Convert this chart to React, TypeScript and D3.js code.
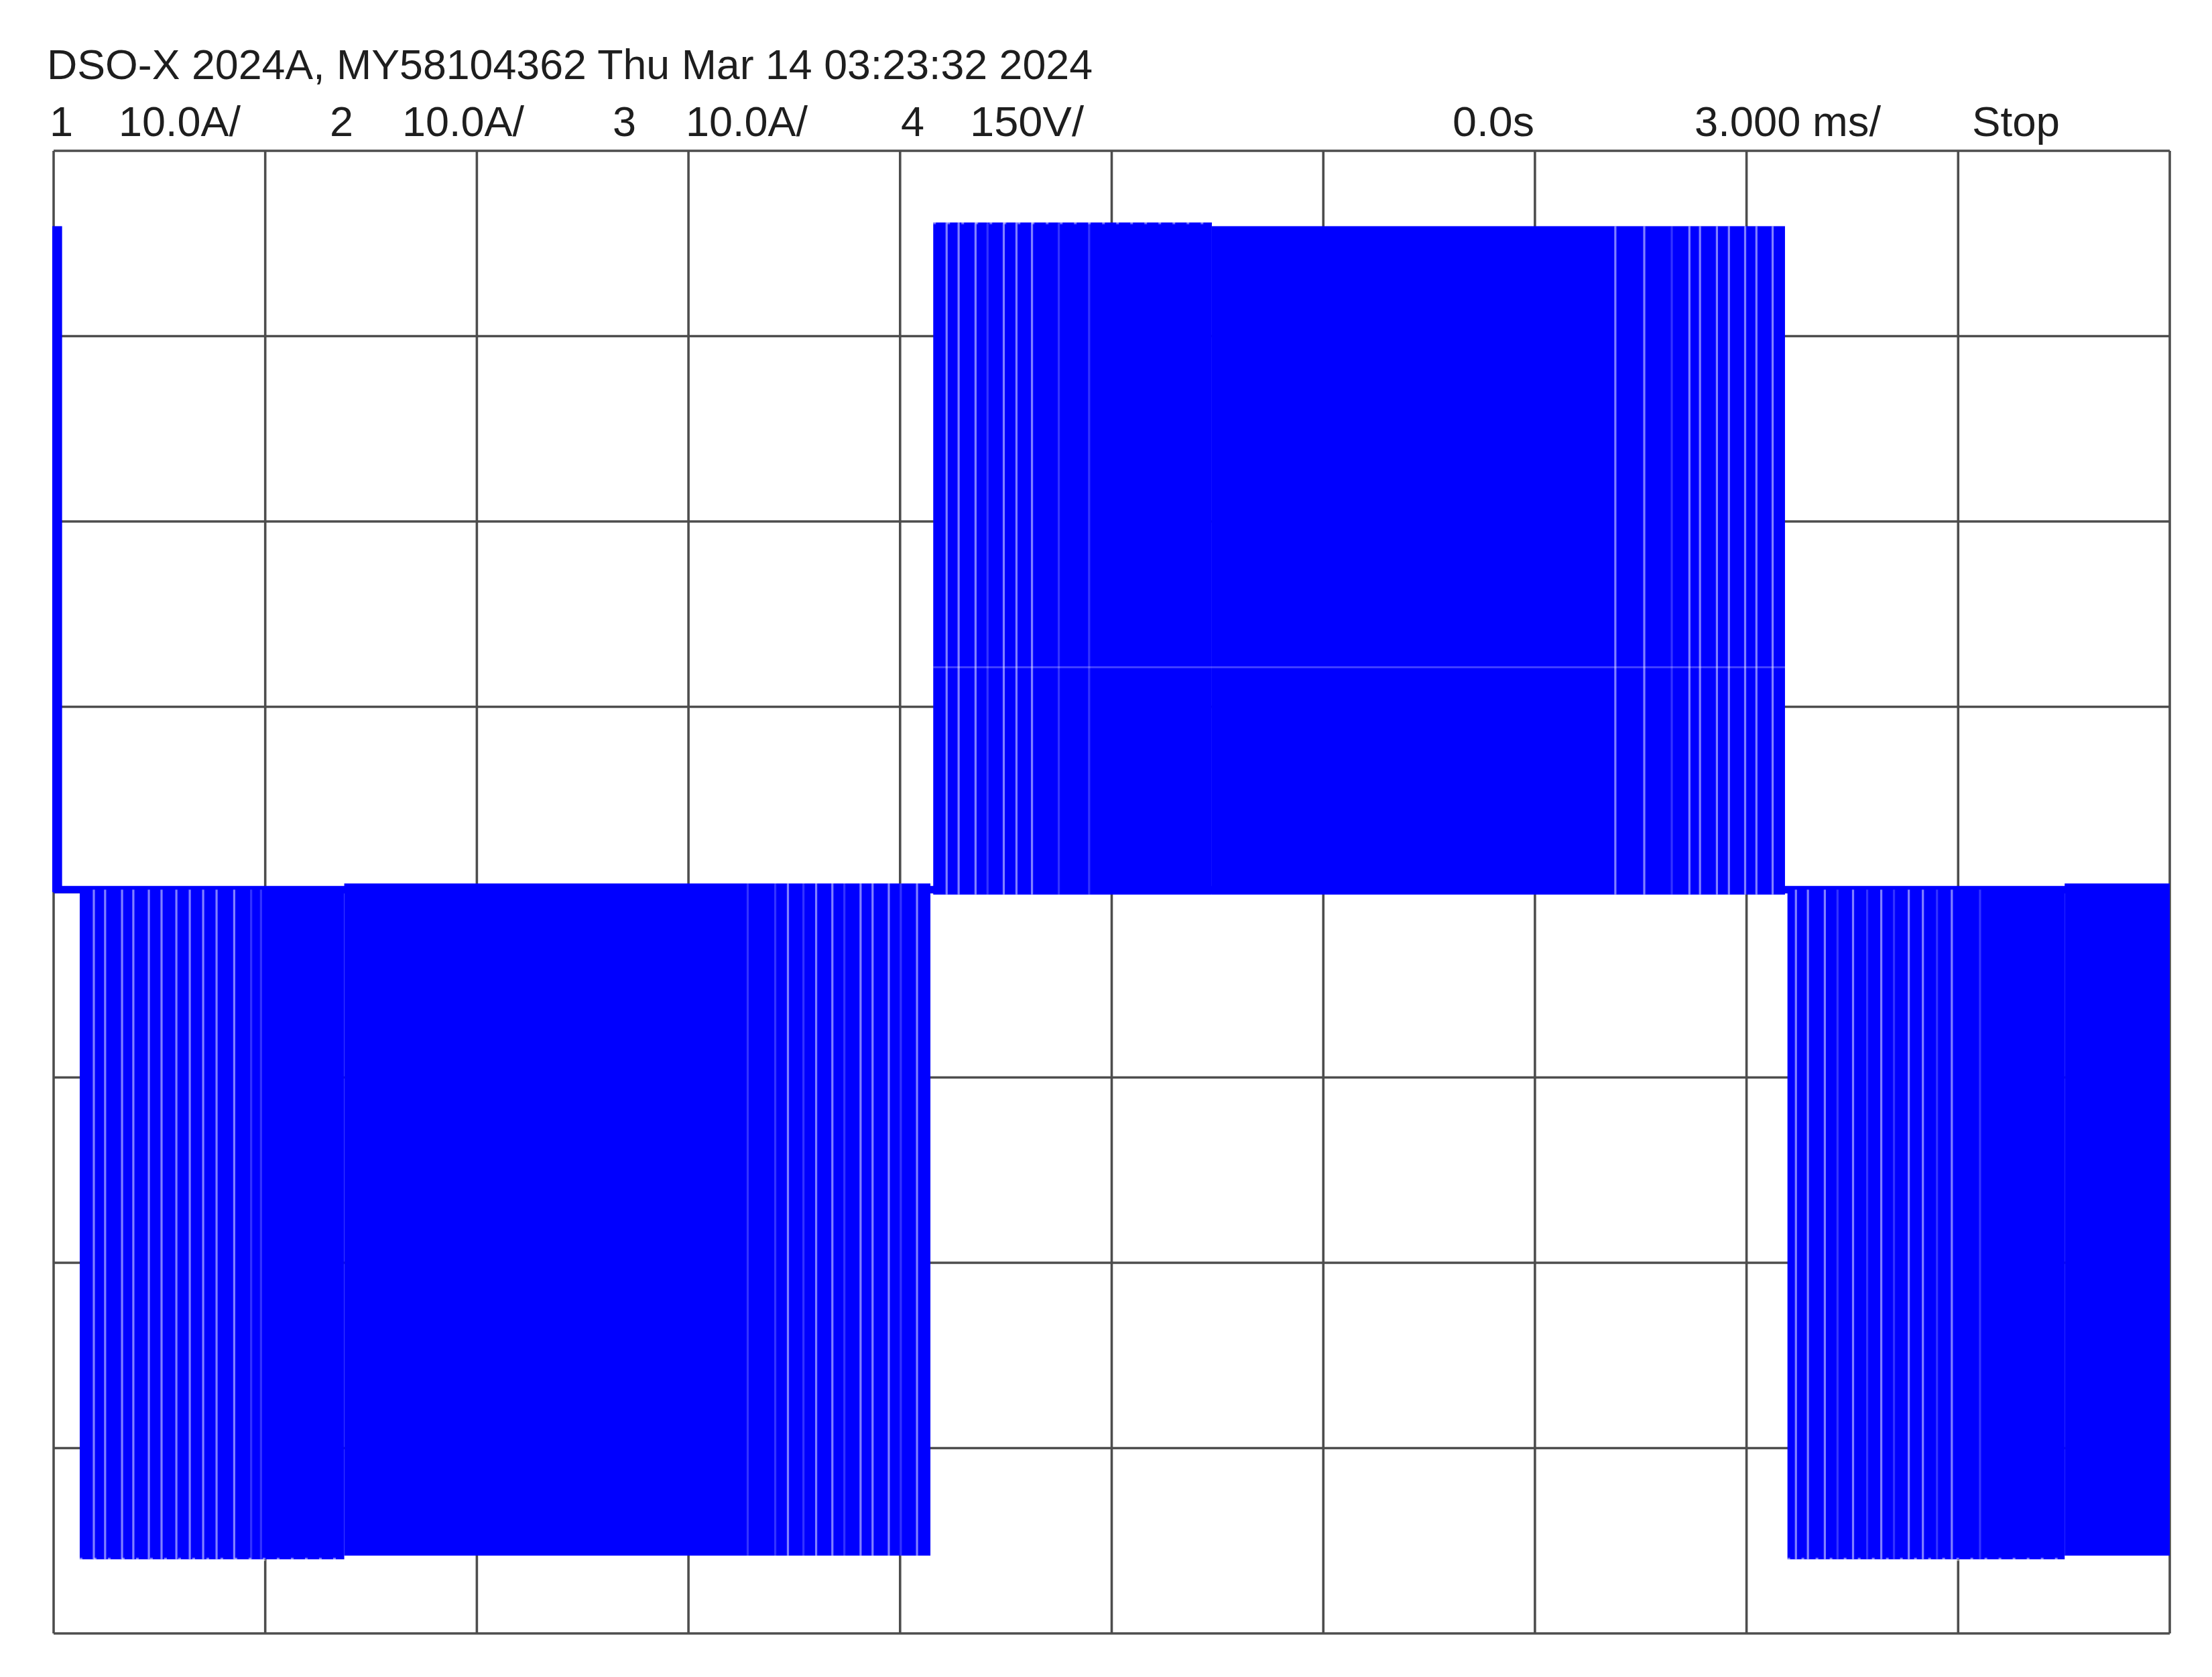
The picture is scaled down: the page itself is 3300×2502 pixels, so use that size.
import * as d3 from "d3";
import { useEffect, useRef } from "react";

// header texts
const titleText = "DSO-X 2024A, MY58104362 Thu Mar 14 03:23:32 2024";
const channelNums = ["1", "2", "3", "4"];
const channelScales = ["10.0A/", "10.0A/", "10.0A/", "150V/"];
const timeLabels = ["0.0s", "3.000 ms/", "Stop"];

// graticule: 3.000 ms/div around 0.0s, 150 V/div
const timeDivs = [-15, -12, -9, -6, -3, 0, 3, 6, 9, 12, 15];
const voltDivs = [-600, -450, -300, -150, 0, 150, 300, 450, 600];

// channel 4 trace, PWM bursts: start / end (ms), switching level (V), zero-side level (V)
const burstStart = [-15.02, -14.63, -10.88, -2.53, 1.42, 9.58, 13.51];
const burstEnd = [-14.88, -10.88, -2.57, 1.42, 9.545, 13.51, 15];
const burstPeak = [539, -540, -537, 542, 539, -540, -537];
const burstBase = [0, 2, 7, -2, -2, 2, 7];
const burstNotched = [false, true, false, true, false, true, false];

// level the trace rests at between bursts (V)
const restLevel = 2;

// off-gaps that show through the bursts (ms)
const gapsClear = [
  -14.43, -14.27, -14.03, -13.87, -13.65, -13.47, -13.26, -13.07, -12.88, -12.69, -12.44,
  -4.59, -4.19, -3.96, -3.56, -3.39, -3.16, -2.76,
  -2.34, -2.17, -1.93, -1.53, -1.35, -1.13,
  7.14, 7.55, 8.19, 8.34, 8.58, 8.75, 8.98, 9.14, 9.37,
  9.7, 9.87, 10.11, 10.51, 10.91, 11.3, 11.5, 11.91,
];
const gapsFaint = [
  -12.2, -12.06, -5.16, -4.77, -4.37, -3.79, -2.99,
  -1.76, -0.75, -0.32, 7.94,
  10.29, 10.71, 11.09, 11.7, 12.31,
];

// faint horizontal artefact inside the positive burst (V)
const streakVolts = [182];

export default function App() {
  const svgRef = useRef<SVGSVGElement | null>(null);

  useEffect(() => {
    if (!svgRef.current) return;
    const svg = d3.select(svgRef.current);
    svg.selectAll("*").remove();

    const width = 3300;
    const height = 2502;
    const left = 80;
    const right = 3237;
    const top = 225;
    const bottom = 2437;
    const font = "'Liberation Sans', Arial, sans-serif";
    const fontSize = 63;
    const blue = "#0000ff";

    svg.attr("width", width).attr("height", height);
    svg.append("rect").attr("width", width).attr("height", height).attr("fill", "#fff");

    const x = d3.scaleLinear().domain([-15, 15]).range([left, right]);
    const y = d3.scaleLinear().domain([-600, 600]).range([bottom, top]);

    // graticule
    const grid = svg.append("g").attr("stroke", "#4d4d4d").attr("stroke-width", 3.6);
    grid.selectAll("line.v")
      .data(timeDivs)
      .enter()
      .append("line")
      .attr("x1", d => x(d))
      .attr("x2", d => x(d))
      .attr("y1", top)
      .attr("y2", bottom);
    grid.selectAll("line.h")
      .data(voltDivs)
      .enter()
      .append("line")
      .attr("x1", left)
      .attr("x2", right)
      .attr("y1", d => y(d))
      .attr("y2", d => y(d));

    // trace
    const trace = svg.append("g");
    trace.append("line")
      .attr("x1", x(-15))
      .attr("x2", x(15))
      .attr("y1", y(restLevel))
      .attr("y2", y(restLevel))
      .attr("stroke", blue)
      .attr("stroke-width", 11);

    const bursts = burstStart.map((s, i) => ({
      start: s,
      end: burstEnd[i],
      peak: burstPeak[i],
      base: burstBase[i],
      notched: burstNotched[i],
    }));

    trace.selectAll("rect.burst")
      .data(bursts)
      .enter()
      .append("rect")
      .attr("x", d => x(d.start))
      .attr("width", d => x(d.end) - x(d.start))
      .attr("y", d => Math.min(y(d.peak), y(d.base)))
      .attr("height", d => Math.abs(y(d.peak) - y(d.base)))
      .attr("fill", blue);

    const findBurst = (t: number) =>
      bursts.find(b => t >= b.start && t <= b.end && b.end - b.start > 0.5) || bursts[1];

    const gapData = [
      ...gapsClear.map(t => ({ t, op: 0.5 })),
      ...gapsFaint.map(t => ({ t, op: 0.2 })),
    ];
    trace.selectAll("rect.gap")
      .data(gapData)
      .enter()
      .append("rect")
      .attr("x", d => x(d.t) - 1.6)
      .attr("width", 3.2)
      .attr("y", d => {
        const b = findBurst(d.t);
        return Math.min(y(b.peak), y(b.base));
      })
      .attr("height", d => {
        const b = findBurst(d.t);
        return Math.abs(y(b.peak) - y(b.base));
      })
      .attr("fill", "#fff")
      .attr("opacity", d => d.op);

    // pulse tips of the early part of each burst
    trace.selectAll("line.notch")
      .data(bursts.filter(b => b.notched))
      .enter()
      .append("line")
      .attr("x1", d => x(d.start))
      .attr("x2", d => x(d.end))
      .attr("y1", d => y(d.peak))
      .attr("y2", d => y(d.peak))
      .attr("stroke", "#fff")
      .attr("stroke-width", 5)
      .attr("stroke-dasharray", "4 17")
      .attr("opacity", 0.45);

    const posBursts = bursts.filter(b => b.peak > 0 && b.end - b.start > 0.5);
    trace.selectAll("line.streak")
      .data(streakVolts)
      .enter()
      .append("line")
      .attr("x1", x(d3.min(posBursts, b => b.start)!))
      .attr("x2", x(d3.max(posBursts, b => b.end)!))
      .attr("y1", d => y(d))
      .attr("y2", d => y(d))
      .attr("stroke", "#fff")
      .attr("stroke-width", 3)
      .attr("opacity", 0.25);

    // header
    const text = svg.append("g")
      .attr("font-family", font)
      .attr("font-size", fontSize)
      .attr("fill", "#1e1e1e");

    text.append("text")
      .attr("x", 70)
      .attr("y", 118)
      .attr("textLength", 1560)
      .attr("lengthAdjust", "spacingAndGlyphs")
      .text(titleText);

    const numX = [74, 492, 914, 1344];
    const scaleX = [177, 600, 1023, 1447];
    const scaleW = [182, 182, 182, 170];
    const rowY = 203;

    text.selectAll("text.num")
      .data(channelNums)
      .enter()
      .append("text")
      .attr("x", (_, i) => numX[i])
      .attr("y", rowY)
      .text(d => d);

    text.selectAll("text.scale")
      .data(channelScales)
      .enter()
      .append("text")
      .attr("x", (_, i) => scaleX[i])
      .attr("y", rowY)
      .attr("textLength", (_, i) => scaleW[i])
      .attr("lengthAdjust", "spacingAndGlyphs")
      .text(d => d);

    const timeX = [2167, 2528, 2942];
    const timeW = [122, 278, 131];
    text.selectAll("text.time")
      .data(timeLabels)
      .enter()
      .append("text")
      .attr("x", (_, i) => timeX[i])
      .attr("y", rowY)
      .attr("textLength", (_, i) => timeW[i])
      .attr("lengthAdjust", "spacingAndGlyphs")
      .text(d => d);
  }, []);

  return (
    <div style={{ position: "absolute", left: 0, top: 0 }}>
      <svg ref={svgRef} style={{ display: "block" }}></svg>
    </div>
  );
}
